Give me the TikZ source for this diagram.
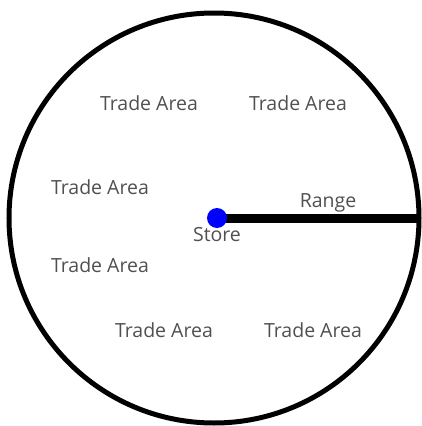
\documentclass[tikz,border=0pt]{standalone}
\usepackage{fontspec}
\setmainfont{Open Sans}
\usepackage{tikz}
\usetikzlibrary{positioning}
\definecolor{labelgray}{RGB}{80,80,82}
\definecolor{storeblue}{RGB}{0,0,255}
\tikzset{
  ring/.style={draw, circle, line width=5pt, minimum size=410pt, inner sep=0pt, outer sep=0pt},
  storedot/.style={circle, fill=storeblue, minimum size=20pt, inner sep=0pt},
  rangeline/.style={line width=9pt},
  tradelabel/.style={text=labelgray, font=\fontsize{19.5}{22}\selectfont, inner sep=0pt}
}
\begin{document}
\begin{tikzpicture}[x=1pt, y=-1pt]
  \useasboundingbox (0,0) rectangle (422,426);
  \node[ring] (ring) at (214,218) {};
  \coordinate (hub) at (217,218);
  \draw[rangeline] (hub) -- (ring.east);
  \node[storedot] (store) at (hub) {};
  \node[tradelabel, below=-1pt of store] (storelbl) {Store};
  \node[tradelabel] (rangelbl) at (328,203) {Range};

  \foreach \n/\x/\y in {a/149/103, b/298/103, c/100/187, d/100/265, e/164/330, f/313/330}
    \node[tradelabel] (trade\n) at (\x,\y) {Trade Area};
\end{tikzpicture}
\end{document}
